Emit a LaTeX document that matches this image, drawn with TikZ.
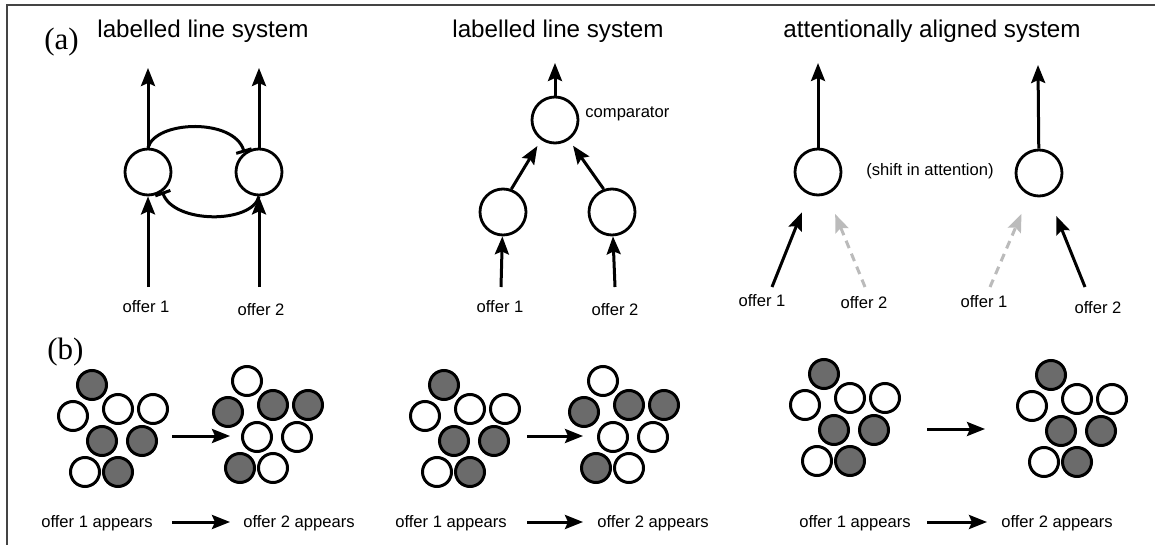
\documentclass[tikz,border=0pt]{standalone}
\usepackage{fontspec}
\setmainfont{Liberation Sans}
\newfontfamily\serifpan{Liberation Serif}
\usetikzlibrary{arrows.meta}
\definecolor{cellgray}{HTML}{6B6B6B}
\definecolor{dashgray}{HTML}{BBBBBB}
\definecolor{framegray}{HTML}{444444}
\newcommand{\clusterpat}[5]{% #1 prefix, #2 x, #3 y, #4 style of group one, #5 style of group two
  \begin{scope}[shift={(#2,#3)}]
    \foreach \dx/\dy/\st [count=\i] in {0/0/#4,-19/31/#5,26/24/#5,61/24/#5,10/56/#4,50/56/#4,-7/87/#5,26/87/#4}
      \node[\st] (#1-\i) at (\dx,\dy) {};
  \end{scope}}
\begin{document}
\begin{tikzpicture}[x=0.5pt,y=-0.5pt,
  conn/.style={line width=1.5pt,-{Stealth[length=9pt,width=7pt,inset=1.5pt]}},
  dconn/.style={conn,dashgray,dash pattern=on 4pt off 3pt},
  unit/.style={circle,draw,line width=1.4pt,minimum size=23pt,inner sep=0pt},
  cellw/.style={circle,draw,line width=1.5pt,fill=white,minimum size=14.5pt,inner sep=0pt},
  cellg/.style={cellw,fill=cellgray},
  title/.style={font=\fontsize{12.1}{14}\selectfont,anchor=base,inner sep=0pt},
  lab/.style={font=\fontsize{8.3}{10}\selectfont,anchor=base,inner sep=0pt},
  panel/.style={font=\serifpan\fontsize{15.5}{18}\selectfont,anchor=base west,inner sep=0pt},
  inhib/.style={line width=1.5pt,-{Bar[width=8pt,line width=1.5pt]}}
]
\useasboundingbox (0,0) rectangle (1155,545);
\draw[framegray,line width=0.8pt] (1155,5) -- (7,5) -- (7,545);

% panel labels and titles
\node[panel] (pa) at (44,50) {(a)};
\node[panel] (pb) at (47,359) {(b)};
\node[title] (t1) at (203,38) {labelled line system};
\node[title] (t2) at (558,38) {labelled line system};
\node[title] (t3) at (932,38) {attentionally aligned system};

% ---- panel 1
\node[unit] (L1) at (148,172) {};
\node[unit] (R1) at (259,172) {};
\coordinate (L1out) at (148,68);
\coordinate (R1out) at (259,68);
\coordinate (L1in) at (148,287);
\coordinate (R1in) at (259,287);
\draw[conn] (L1) -- (L1out);
\draw[conn] (R1) -- (R1out);
\draw[conn] (L1in) -- (L1);
\draw[conn] (R1in) -- (R1);
\draw[inhib] (L1.north) .. controls (156,120) and (234,118) .. (R1.127);
\draw[inhib] (R1.south) .. controls (252,224) and (174,224) .. (L1.-54);
\node[lab] (o11) at (146,312) {offer 1};
\node[lab] (o12) at (261,315) {offer 2};

% ---- panel 2
\node[unit] (cmp) at (555,120) {};
\node[unit] (A2) at (503,212) {};
\node[unit] (B2) at (612,212) {};
\coordinate (cmpout) at (555,63);
\coordinate (A2in) at (501,287);
\coordinate (B2in) at (615,287);
\draw[conn] (cmp) -- (cmpout);
\draw[conn,shorten >=3.5pt] (A2.70) -- (cmp.235);
\draw[conn,shorten >=3.5pt] (B2.110) -- (cmp.305);
\draw[conn] (A2in) -- (A2);
\draw[conn] (B2in) -- (B2);
\node[lab,anchor=base west] (cmpl) at (585,118) {comparator};
\node[lab] (o21) at (500,312) {offer 1};
\node[lab] (o22) at (615,315) {offer 2};

% ---- panel 3
\node[unit] (P3) at (818,172) {};
\node[unit] (Q3) at (1039,173) {};
\coordinate (P3out) at (818,63);
\coordinate (Q3out) at (1038,65);
\draw[conn] (P3) -- (P3out);
\draw[conn] (Q3) -- (Q3out);
\coordinate (P3a) at (772,287);
\coordinate (P3b) at (865,287);
\coordinate (Q3a) at (990,287);
\coordinate (Q3b) at (1085,287);
\draw[conn,shorten >=9.5pt] (P3a) -- (P3);
\draw[dconn,shorten >=10.5pt] (P3b) -- (P3);
\draw[dconn,shorten >=10pt] (Q3a) -- (Q3);
\draw[conn,shorten >=11pt] (Q3b) -- (Q3);
\node[lab] (shift) at (930,176) {(shift in attention)};
\node[lab] (o31) at (762,306) {offer 1};
\node[lab] (o32) at (864,308) {offer 2};
\node[lab] (o33) at (984,307) {offer 1};
\node[lab] (o34) at (1098,313) {offer 2};

% ---- row (b): clusters
\clusterpat{c1}{92}{385}{cellg}{cellw}
\clusterpat{c2}{247}{381}{cellw}{cellg}
\clusterpat{c3}{444}{385}{cellg}{cellw}
\clusterpat{c4}{603}{381}{cellw}{cellg}
\clusterpat{c5}{824}{374}{cellg}{cellw}
\clusterpat{c6}{1051}{375}{cellg}{cellw}

\coordinate (k1s) at (172,436); \coordinate (k1e) at (230,436);
\coordinate (k2s) at (527,436); \coordinate (k2e) at (583,436);
\coordinate (k3s) at (927,429); \coordinate (k3e) at (985,429);
\draw[conn] (k1s) -- (k1e);
\draw[conn] (k2s) -- (k2e);
\draw[conn] (k3s) -- (k3e);

% ---- row (b): captions
\node[lab] (a11) at (97,527) {offer 1 appears};
\node[lab] (a12) at (299,527) {offer 2 appears};
\node[lab] (a21) at (451,527) {offer 1 appears};
\node[lab] (a22) at (653,527) {offer 2 appears};
\node[lab] (a31) at (855,527) {offer 1 appears};
\node[lab] (a32) at (1057,527) {offer 2 appears};
\coordinate (m1s) at (172,522); \coordinate (m1e) at (230,522);
\coordinate (m2s) at (527,522); \coordinate (m2e) at (583,522);
\coordinate (m3s) at (927,522); \coordinate (m3e) at (987,522);
\draw[conn] (m1s) -- (m1e);
\draw[conn] (m2s) -- (m2e);
\draw[conn] (m3s) -- (m3e);
\end{tikzpicture}
\end{document}
